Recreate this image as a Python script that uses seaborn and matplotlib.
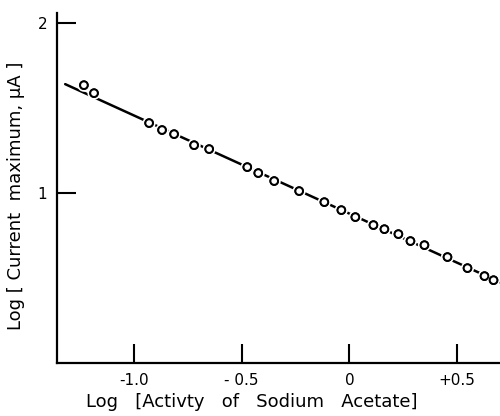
import matplotlib
matplotlib.use("Agg")
import matplotlib.pyplot as plt
import matplotlib.patheffects as pe
import seaborn as sns
import pandas as pd

# Measured points: log activity of sodium acetate vs log current maximum
log_activity = [-1.233, -1.186, -0.930, -0.870, -0.814, -0.721, -0.651, -0.474,
                -0.423, -0.349, -0.233, -0.116, -0.037, 0.028, 0.112, 0.163,
                0.228, 0.284, 0.349, 0.456, 0.549, 0.628, 0.670]
log_current = [1.635, 1.588, 1.412, 1.371, 1.347, 1.282, 1.259, 1.153,
               1.118, 1.071, 1.012, 0.947, 0.900, 0.859, 0.812, 0.788,
               0.759, 0.718, 0.694, 0.624, 0.559, 0.512, 0.488]

# Straight-line fit through the data
fit_x = [-1.32, 0.70]
fit_y = [1.641, 0.476]

x_ticks = [-1.0, -0.5, 0.0, 0.5]
x_tick_labels = ["-1.0", "- 0.5", "0", "+0.5"]
y_ticks = [1, 2]
y_tick_labels = ["1", "2"]

points = pd.DataFrame({"x": log_activity, "y": log_current})
fit = pd.DataFrame({"x": fit_x, "y": fit_y})

sns.set_theme(style="ticks")
plt.rcParams["font.family"] = ["DejaVu Sans"]
plt.rcParams["text.color"] = "black"
plt.rcParams["axes.labelcolor"] = "black"
plt.rcParams["xtick.color"] = "black"
plt.rcParams["ytick.color"] = "black"

fig = plt.figure(figsize=(5.0, 4.16), dpi=100)
ax = fig.add_axes([0.114, 0.127, 0.886, 0.842])

sns.lineplot(data=fit, x="x", y="y", ax=ax, color="black", linewidth=1.8, zorder=2)
sns.scatterplot(data=points, x="x", y="y", ax=ax, marker="o", s=30,
                facecolor="white", edgecolor="black", linewidth=1.4, zorder=3)
ax.collections[-1].set_path_effects([pe.withStroke(linewidth=4.0, foreground="white"),
                                     pe.Normal()])

ax.set_xlim(-1.358, 0.70)
ax.set_ylim(0.0, 2.06)

ax.set_xticks(x_ticks)
ax.set_xticklabels(x_tick_labels)
ax.set_yticks(y_ticks)
ax.set_yticklabels(y_tick_labels)

ax.tick_params(direction="in", length=14, width=1.5, labelsize=11, pad=7,
               color="black", labelcolor="black")
for side in ("left", "bottom"):
    ax.spines[side].set_linewidth(1.6)
    ax.spines[side].set_color("black")
sns.despine(ax=ax)

ax.set_xlabel("Log   [Activty   of   Sodium   Acetate]", fontsize=13, color="black")
ax.set_ylabel("Log [ Current  maximum, \u03bcA ]", fontsize=13, color="black")
ax.xaxis.set_label_coords(0.44, -0.085)
ax.yaxis.set_label_coords(-0.072, 0.477)

fig.savefig("out.png", dpi=100)
